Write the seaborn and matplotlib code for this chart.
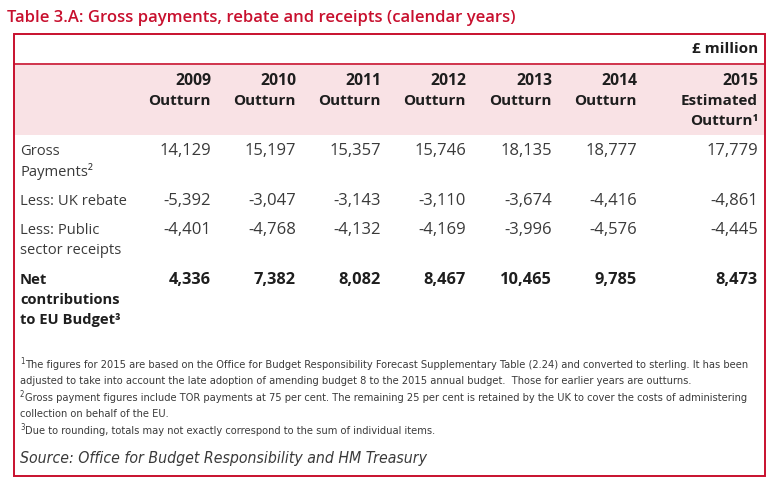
import matplotlib.pyplot as plt
from matplotlib import font_manager
import seaborn as sns
import pandas as pd

# Table values (GBP million)
years = ["2009", "2010", "2011", "2012", "2013", "2014", "2015"]
status = ["Outturn", "Outturn", "Outturn", "Outturn", "Outturn", "Outturn", "Estimated\nOutturn\u00b9"]
row_labels = ["Gross\nPayments\u00b2", "Less: UK rebate", "Less: Public\nsector receipts",
              "Net\ncontributions\nto EU Budget\u00b3"]
gross = [14129, 15197, 15357, 15746, 18135, 18777, 17779]
rebate = [-5392, -3047, -3143, -3110, -3674, -4416, -4861]
receipts = [-4401, -4768, -4132, -4169, -3996, -4576, -4445]
net = [4336, 7382, 8082, 8467, 10465, 9785, 8473]

title = "Table 3.A: Gross payments, rebate and receipts (calendar years)"
unit = "\u00a3 million"
footnotes = [
    ("1", "The figures for 2015 are based on the Office for Budget Responsibility Forecast Supplementary Table (2.24) and converted to sterling. It has been"),
    ("", "adjusted to take into account the late adoption of amending budget 8 to the 2015 annual budget.  Those for earlier years are outturns."),
    ("2", "Gross payment figures include TOR payments at 75 per cent. The remaining 25 per cent is retained by the UK to cover the costs of administering"),
    ("", "collection on behalf of the EU."),
    ("3", "Due to rounding, totals may not exactly correspond to the sum of individual items."),
]
source = "Source: Office for Budget Responsibility and HM Treasury"

df = pd.DataFrame({"gross": gross, "rebate": rebate, "receipts": receipts, "net": net}, index=years)

sns.set_theme(style="white")
plt.rcParams["font.family"] = ["Open Sans", "DejaVu Sans"]

red = "#c8102e"
pink = "#f9e2e5"
ink = "#1e1e1e"
grey = "#3a3a3a"

# narrow font for the notes, if one is around
cond = font_manager.FontProperties(family="DejaVu Sans", stretch="condensed")
if "Condensed" in font_manager.findfont(cond):
    note_font = dict(family="DejaVu Sans", fontstretch="condensed")
else:
    note_font = dict(family="Liberation Sans")

fig = plt.figure(figsize=(7.8, 4.86), dpi=100)
ax = fig.add_axes([0, 0, 1, 1])
ax.set_xlim(0, 780)
ax.set_ylim(486, 0)
ax.axis("off")
renderer = fig.canvas.get_renderer()


def fit(t, width):
    # shrink/grow a text so it spans the width seen in the reference
    w = t.get_window_extent(renderer).width
    t.set_fontsize(t.get_fontsize() * width / w)


# title
ax.text(7, 18, title, color=red, fontsize=12, fontweight="semibold", va="center", ha="left")

# frame and header band
ax.add_patch(plt.Rectangle((14, 34), 751, 442, fill=False, edgecolor=red, lw=1.4))
ax.add_patch(plt.Rectangle((14.7, 65), 749.6, 70, facecolor=pink, edgecolor="none"))
ax.plot([14, 765], [64.5, 64.5], color=red, lw=1.2)

ax.text(758, 49, unit, fontsize=11, fontweight="bold", color=ink, ha="right", va="center")

col_right = [211, 296, 381, 466, 552, 637, 758]
for x, yr, st in zip(col_right, years, status):
    ax.text(x, 81, yr, fontsize=11.3, fontweight="bold", color=ink, ha="right", va="center")
    for i, line in enumerate(st.split("\n")):
        ax.text(x, 101 + 19.5 * i, line, fontsize=11, fontweight="bold", color=ink,
                ha="right", va="center")

# body rows
row_y = [151, 201, 230, 280]
row_cols = ["gross", "rebate", "receipts", "net"]
for label, y, col in zip(row_labels, row_y, row_cols):
    bold = col == "net"
    for i, line in enumerate(label.split("\n")):
        ax.text(20, y + 20 * i, line, fontsize=10.6, color=ink if bold else grey,
                fontweight="bold" if bold else "normal", ha="left", va="center")
    for x, v in zip(col_right, df[col]):
        ax.text(x, y, f"{v:,}", fontsize=12 if not bold else 11.8, color=ink if bold else grey,
                fontweight="bold" if bold else "normal", ha="right", va="center")

# footnotes
foot_y = [365, 381, 398, 414, 431]
probe = ax.text(25, foot_y[0], footnotes[0][1], fontsize=9, color=grey, ha="left", va="center",
                **note_font)
fit(probe, 727)
note_size = probe.get_fontsize()
probe.remove()
for (sup, txt), y in zip(footnotes, foot_y):
    if sup:
        ax.text(20, y - 4, sup, fontsize=note_size * 0.7, color=grey, ha="left", va="center",
                **note_font)
        ax.text(25, y, txt, fontsize=note_size, color=grey, ha="left", va="center", **note_font)
    else:
        ax.text(20, y, txt, fontsize=note_size, color=grey, ha="left", va="center", **note_font)

src = ax.text(20, 458, source, fontsize=12, style="italic", color=grey, ha="left", va="center",
              **note_font)
fit(src, 405)

fig.savefig("out.png", dpi=100)
